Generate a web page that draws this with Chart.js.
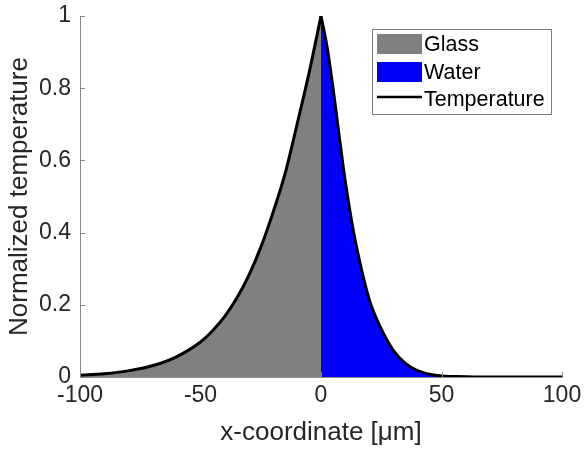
<!DOCTYPE html>
<html>
<head>
<meta charset="utf-8">
<script src="https://cdn.jsdelivr.net/npm/chart.js@4.4.1/dist/chart.umd.min.js"></script>
<style>
  html, body { margin: 0; padding: 0; background: #fff; }
  #wrap { width: 584px; height: 449px; }
</style>
</head>
<body>
<div id="wrap"><canvas id="tempChart" width="584" height="449"></canvas></div>
<script>
// values
const glassX = [-100, -90, -80, -70, -60, -50, -45, -40, -35, -30, -25, -20, -15, -10, -5, 0];
const glassY = [0.005, 0.009, 0.017, 0.031, 0.056, 0.097, 0.128, 0.167, 0.218, 0.281, 0.359, 0.454, 0.561, 0.698, 0.841, 1];
const waterX = [0, 2.5, 5, 7.5, 10, 12.5, 15, 20, 25, 30, 35, 40, 45, 50, 60, 70, 80, 90, 100];
const waterY = [1, 0.915, 0.8, 0.67, 0.545, 0.44, 0.352, 0.215, 0.133, 0.074, 0.038, 0.018, 0.008, 0.003, 0.001, 0, 0, 0, 0];
const xTicks = [-100, -50, 0, 50, 100];
const yTicks = [0, 0.2, 0.4, 0.6, 0.8, 1];
const yTickLabels = ["0", "0.2", "0.4", "0.6", "0.8", "1"];
const seriesNames = ["Glass", "Water", "Temperature"];

const FONT = "'Liberation Sans', Arial, Helvetica, sans-serif";
const TEXT = "#262626";
const AXIS = "#8a8a8a";

const toPoints = (xs, ys) => xs.map((x, i) => ({ x: x, y: ys[i] }));

// inward tick marks, like the original
const innerTicks = {
  id: "innerTicks",
  afterDraw(chart) {
    const { ctx, chartArea, scales } = chart;
    ctx.save();
    ctx.strokeStyle = AXIS;
    ctx.lineWidth = 1;
    ctx.beginPath();
    yTicks.forEach(v => {
      const y = Math.round(scales.y.getPixelForValue(v)) + 0.5;
      ctx.moveTo(chartArea.left, y);
      ctx.lineTo(chartArea.left + 5, y);
    });
    xTicks.forEach(v => {
      const x = Math.round(scales.x.getPixelForValue(v)) + 0.5;
      ctx.moveTo(x, chartArea.bottom);
      ctx.lineTo(x, chartArea.bottom - 5);
    });
    ctx.stroke();
    ctx.restore();
  }
};

// legend box in the top right corner of the plot
const boxLegend = {
  id: "boxLegend",
  afterDraw(chart) {
    const { ctx } = chart;
    const left = 372, top = 29, w = 179, h = 85;
    ctx.save();
    ctx.fillStyle = "#fff";
    ctx.fillRect(left, top, w, h);
    ctx.strokeStyle = "#7a7a7a";
    ctx.lineWidth = 1;
    ctx.strokeRect(left + 0.5, top + 0.5, w, h);

    const rows = [44, 72, 99];
    ctx.font = "21.5px " + FONT;
    ctx.textBaseline = "middle";
    rows.forEach((cy, i) => {
      const ds = chart.data.datasets.find(d => d.label === seriesNames[i]);
      if (i < 2) {
        ctx.fillStyle = ds.backgroundColor;
        ctx.fillRect(377, cy - 10, 45, 20);
      } else {
        ctx.strokeStyle = ds.borderColor;
        ctx.lineWidth = 2.5;
        ctx.beginPath();
        ctx.moveTo(377, cy - 2);
        ctx.lineTo(422, cy - 2);
        ctx.stroke();
      }
      ctx.fillStyle = "#000";
      ctx.fillText(seriesNames[i], 424, cy + 1);
    });
    ctx.restore();
  }
};

const lineStyle = {
  showLine: true,
  pointRadius: 0,
  cubicInterpolationMode: "monotone"
};

const ctx = document.getElementById("tempChart").getContext("2d");
new Chart(ctx, {
  type: "scatter",
  data: {
    datasets: [
      {
        ...lineStyle,
        label: "Temperature",
        data: toPoints(glassX, glassY),
        borderColor: "#000",
        borderWidth: 3,
        borderCapStyle: "round",
        fill: false,
        order: 0
      },
      {
        ...lineStyle,
        label: "Temperature (water side)",
        data: toPoints(waterX, waterY),
        borderColor: "#000",
        borderWidth: 3,
        borderCapStyle: "round",
        fill: false,
        order: 0
      },
      {
        ...lineStyle,
        label: "Glass",
        data: toPoints(glassX, glassY),
        borderWidth: 0,
        borderColor: "rgba(0,0,0,0)",
        backgroundColor: "#808080",
        fill: "origin",
        order: 1
      },
      {
        ...lineStyle,
        label: "Water",
        data: toPoints(waterX, waterY),
        borderWidth: 0,
        borderColor: "rgba(0,0,0,0)",
        backgroundColor: "#0000ff",
        fill: "origin",
        order: 2
      }
    ]
  },
  options: {
    responsive: false,
    animation: false,
    layout: { padding: { top: 16, right: 22, left: 0, bottom: 0 } },
    plugins: {
      legend: { display: false },
      tooltip: { enabled: false }
    },
    scales: {
      x: {
        type: "linear",
        min: -100,
        max: 100,
        afterFit: (scale) => {
          scale.height = 72;
          scale.paddingLeft = 0;
          scale.paddingRight = 0;
        },
        afterBuildTicks: (scale) => { scale.ticks = xTicks.map(v => ({ value: v })); },
        grid: { display: false, drawTicks: false },
        border: { display: true, color: AXIS, width: 1 },
        ticks: {
          color: TEXT,
          padding: 5,
          font: { family: FONT, size: 23 },
          callback: (value) => String(value)
        },
        title: {
          display: true,
          text: "x-coordinate [μm]",
          color: TEXT,
          font: { family: FONT, size: 26 },
          padding: { top: 0, bottom: 1 }
        }
      },
      y: {
        type: "linear",
        min: 0,
        max: 1,
        afterFit: (scale) => {
          scale.width = 80;
          scale.paddingTop = 0;
          scale.paddingBottom = 0;
        },
        afterBuildTicks: (scale) => { scale.ticks = yTicks.map(v => ({ value: v })); },
        grid: { display: false, drawTicks: false },
        border: { display: true, color: AXIS, width: 1 },
        ticks: {
          color: TEXT,
          padding: 9,
          font: { family: FONT, size: 23 },
          callback: (value) => yTickLabels[yTicks.indexOf(value)] ?? ""
        },
        title: {
          display: true,
          text: "Normalized temperature",
          color: TEXT,
          font: { family: FONT, size: 26 },
          padding: { top: 4, bottom: 0 }
        }
      }
    }
  },
  plugins: [innerTicks, boxLegend]
});
</script>
</body>
</html>
